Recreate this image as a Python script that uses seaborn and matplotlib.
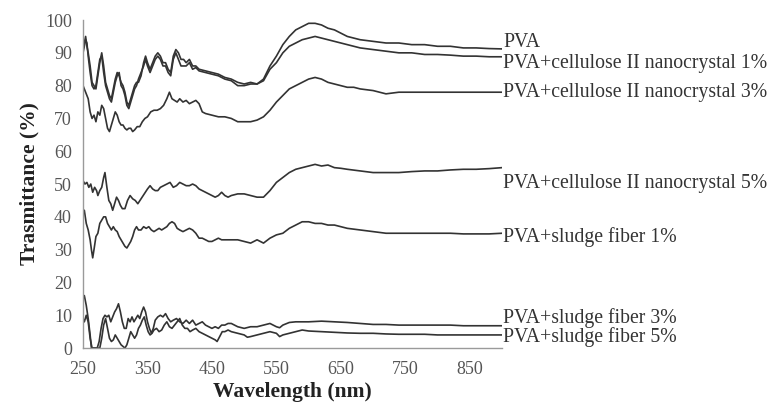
import matplotlib
matplotlib.use("Agg")
import matplotlib.pyplot as plt
import seaborn as sns
import pandas as pd

# Transmittance spectra (%) of PVA films
pva_wl = [250, 252, 254, 256, 258, 261, 264, 267, 270, 273, 276, 279, 282, 285, 288, 291, 294, 297,
          300, 303, 306, 309, 312, 315, 318, 321, 324, 327, 330, 333, 336, 340, 344, 347, 350, 354,
          358, 362, 366, 370, 374, 378, 382, 386, 390, 394, 398, 402, 406, 410, 415, 420, 425, 430,
          440, 450, 460, 470, 480, 490, 500, 510, 520, 530, 540, 550, 560, 570, 580, 590, 600, 610,
          620, 630, 640, 650, 660, 670, 680, 700, 720, 740, 760, 780, 800, 820, 840, 860, 880, 900]
pva_t = [91, 93, 95, 92, 90, 86, 81, 80, 79, 83, 87, 90, 86, 81, 79, 77, 76, 79,
         82, 84, 83, 81, 80, 78, 75, 74, 76, 78, 80, 81, 81, 83, 87, 89, 87, 85,
         87, 89, 90, 89, 87, 87, 85, 84, 89, 91, 90, 88, 88, 87, 88, 86, 86, 85,
         84.5, 84, 83.5, 82.5, 82, 81, 80.5, 81, 80.5, 82, 86, 89, 92.5, 95, 97, 98, 99, 99,
         98.5, 97.5, 97, 96, 95, 94.5, 94, 93.5, 93, 93, 92.5, 92.5, 92, 92, 91.5, 91.5, 91.3, 91.2]

cnc1_wl = pva_wl
cnc1_t = [90, 92, 94, 93, 89, 84, 80, 79, 80, 84, 88, 89, 84, 80, 78, 76, 75, 78,
          81, 83, 84, 80, 79, 77, 74, 73, 75, 77, 79, 80, 82, 84, 86, 88, 86, 84,
          86, 88, 89, 88, 86, 86, 84, 83, 88, 90, 88, 86, 86, 86, 87, 85, 85.5, 84.5,
          84, 83.5, 83, 82, 81.5, 80, 80, 80.5, 80.5, 81.5, 85, 87, 90, 92, 93, 94, 94.5, 95,
          94.5, 94, 93.5, 93, 92.5, 92, 91.5, 91, 90.5, 90, 90, 89.5, 89.5, 89.3, 89, 89, 88.8, 88.8]

cnc3_wl = [250, 254, 258, 261, 264, 267, 270, 273, 276, 279, 282, 285, 288, 291, 294, 297, 300, 303,
           306, 309, 312, 315, 318, 321, 324, 327, 330, 334, 338, 342, 346, 350, 355, 360, 365, 370,
           375, 380, 384, 388, 392, 396, 400, 405, 410, 415, 420, 425, 430, 435, 440, 450, 460, 470,
           480, 490, 500, 510, 520, 530, 540, 550, 560, 570, 580, 590, 600, 610, 620, 630, 640, 650,
           660, 670, 680, 700, 720, 740, 760, 780, 800, 820, 840, 860, 880, 900]
cnc3_t = [80, 78, 76, 72, 70, 71, 69, 72, 71, 74, 73, 70, 67, 66, 68, 70, 72, 71,
          69, 68, 68, 67, 66.5, 67, 67, 66, 66.5, 67.5, 67.5, 69, 70, 70.5, 72, 72.5, 72.5, 73,
          74, 76, 78, 76, 75.5, 75, 76, 75, 75.5, 74.5, 75, 75.5, 74.5, 72, 71.5, 71, 70.5, 70.5,
          70, 69, 69, 69, 69.5, 70.5, 72.5, 75, 77, 79, 80, 81, 82, 82.5, 82, 81, 80.5, 80,
          79.5, 79.5, 79, 78.5, 77.5, 78, 78, 78, 78, 78, 78, 78, 78, 78]

cnc5_wl = [250, 253, 256, 259, 262, 265, 268, 271, 273, 276, 279, 282, 284, 287, 290, 293, 296, 299,
           302, 305, 308, 311, 315, 319, 323, 327, 331, 335, 340, 345, 350, 354, 358, 362, 366, 370,
           375, 380, 385, 390, 395, 400, 405, 410, 415, 420, 425, 430, 435, 440, 445, 450, 455, 460,
           465, 470, 475, 480, 490, 500, 510, 520, 530, 540, 550, 560, 570, 580, 590, 600, 610, 620,
           630, 640, 650, 660, 680, 700, 720, 740, 760, 780, 800, 820, 840, 860, 880, 900]
cnc5_t = [51, 50, 50.5, 49, 50, 47.5, 49, 48, 46.5, 48, 49, 52, 53.5, 49, 45, 44, 42, 44,
          46, 45, 43.5, 42.5, 42.5, 45, 46.5, 45.5, 45, 44, 45.5, 47, 48.5, 49.5, 48.5, 48, 48, 49,
          49.5, 50, 50.5, 49, 49.5, 50.5, 50, 49.5, 49.5, 50, 49.5, 48.5, 48, 47.5, 47, 46.5, 46, 46.5,
          47.5, 46.5, 46, 46.5, 47, 47, 46.5, 46, 46, 48, 50.5, 52, 53.5, 54.5, 55, 55.5, 56, 55.5,
          55.8, 55, 54.8, 54.5, 54, 53.5, 53.5, 53.5, 53.8, 54, 54, 54.3, 54.5, 54.5, 54.7, 55]

sf1_wl = [250, 252, 255, 258, 261, 263, 265, 267, 270, 273, 276, 279, 282, 285, 288, 291, 294, 297,
          300, 303, 306, 309, 312, 315, 318, 321, 324, 327, 330, 333, 336, 340, 344, 348, 352, 356,
          360, 364, 368, 372, 376, 380, 384, 388, 392, 396, 400, 405, 410, 415, 420, 425, 430, 435,
          440, 445, 450, 455, 460, 465, 470, 480, 490, 500, 510, 515, 520, 525, 530, 540, 550, 560,
          570, 580, 590, 600, 610, 620, 630, 640, 650, 660, 680, 700, 720, 740, 760, 780, 800, 820,
          840, 860, 880, 900]
sf1_t = [41, 42, 38, 36, 33, 30, 27.5, 30, 34, 35, 38, 39, 40, 40, 38, 37, 36, 37,
         36, 35.5, 34, 33, 32, 31, 30.5, 31.5, 32.5, 34, 36, 37, 36, 36, 37, 36.5, 37, 36,
         35.5, 36, 36.5, 36, 36.5, 37, 38, 38.5, 38, 36.5, 36, 35.5, 36, 36.5, 36, 35, 33.5, 33.5,
         33, 32.5, 32.5, 33, 33.5, 33, 33, 33, 33, 32.5, 32, 32.5, 33, 32.5, 32, 33.5, 34.5, 35,
         36.5, 37.5, 38.5, 38.5, 38, 38, 37.5, 37.5, 37, 36.5, 36, 35.5, 35, 35, 35, 35, 35, 35,
         34.8, 34.8, 34.8, 35]

sf3_wl = [250, 252, 255, 258, 261, 263, 266, 269, 272, 275, 278, 281, 284, 287, 290, 293, 296, 299,
          302, 305, 308, 311, 314, 317, 320, 323, 326, 329, 332, 335, 338, 341, 344, 347, 350, 353,
          356, 359, 362, 366, 370, 374, 378, 382, 386, 390, 395, 400, 405, 410, 415, 420, 425, 430,
          435, 440, 445, 450, 455, 460, 465, 470, 475, 480, 490, 500, 510, 520, 530, 540, 550, 555,
          560, 570, 580, 590, 600, 620, 640, 660, 680, 700, 720, 740, 760, 780, 800, 820, 840, 860,
          880, 900]
sf3_t = [15, 16, 13, 9, 4, 0, 0, 0, 0, 2, 6, 9, 10, 9.5, 10, 8, 9.5, 11,
         12, 13.5, 11, 8, 6, 6, 9, 8, 9.5, 8, 9, 10, 9, 11, 12.5, 11, 8, 6,
         4.5, 6, 8.5, 9.5, 10, 9.5, 10.5, 9, 8, 8.5, 9, 8, 7.5, 8.5, 7.5, 8.5, 7, 7.5,
         8, 7, 6.5, 6, 6.5, 6, 7, 7, 7.5, 7.5, 6.5, 6, 6.5, 6.5, 7, 7.5, 6.5, 6.2,
         7, 7.8, 8, 8, 8, 8.2, 8, 7.8, 7.5, 7.2, 7.2, 7, 7, 7, 7, 7, 6.8, 6.8,
         6.8, 6.8]

sf5_wl = [250, 252, 255, 258, 261, 264, 267, 270, 273, 276, 279, 282, 285, 288, 291, 294, 297, 300,
          303, 306, 309, 312, 315, 318, 321, 324, 327, 330, 333, 336, 339, 342, 345, 348, 351, 354,
          357, 360, 364, 368, 372, 376, 380, 384, 388, 392, 396, 400, 404, 408, 412, 416, 420, 425,
          430, 435, 440, 445, 450, 455, 458, 462, 466, 470, 475, 480, 490, 500, 505, 510, 520, 530,
          540, 550, 555, 560, 570, 580, 590, 600, 620, 640, 660, 680, 700, 720, 740, 760, 780, 800,
          820, 840, 860, 880, 900]
sf5_t = [9, 8, 10, 8, 3, 0, 0, 0, 0, 0, 3, 7, 9, 6, 3, 2, 2.5, 4,
         3, 2, 1, 0.5, 0, 1, 3, 5, 4, 3, 4, 6, 7, 8.5, 9.5, 7, 5, 4,
         4.5, 5.5, 6, 5, 5.5, 7, 8, 6.5, 6, 7, 8, 9, 7, 6, 6, 5, 5.5, 6,
         5, 4.5, 4, 3.5, 3, 2.5, 2, 3.5, 5, 5, 5.5, 5, 4.5, 4, 3.3, 3.5, 4, 4.5,
         5, 4.5, 3.5, 4, 4.5, 5, 5.5, 5.2, 5, 4.8, 4.6, 4.5, 4.5, 4.3, 4.2, 4.2, 4.2, 4,
         4, 4, 4, 4, 4]

series_names = ["PVA",
                "PVA+cellulose II nanocrystal 1%",
                "PVA+cellulose II nanocrystal 3%",
                "PVA+cellulose II nanocrystal 5%",
                "PVA+sludge fiber 1%",
                "PVA+sludge fiber 3%",
                "PVA+sludge fiber 5%"]
series_data = [(pva_wl, pva_t), (cnc1_wl, cnc1_t), (cnc3_wl, cnc3_t), (cnc5_wl, cnc5_t),
               (sf1_wl, sf1_t), (sf3_wl, sf3_t), (sf5_wl, sf5_t)]
# vertical placement of the end labels (in % units)
label_y = [93.3, 86.9, 78.0, 50.3, 33.8, 9.1, 3.4]

x_ticks = [250, 350, 450, 550, 650, 750, 850]
y_ticks = [0, 10, 20, 30, 40, 50, 60, 70, 80, 90, 100]

rows = []
for name, (wl, t) in zip(series_names, series_data):
    for w, v in zip(wl, t):
        rows.append({"Wavelength": w, "T": v, "Sample": name})
df = pd.DataFrame(rows)

sns.set_style("white")
plt.rcParams["font.family"] = ["Liberation Serif", "DejaVu Serif"]

fig = plt.figure(figsize=(7.71, 4.09), dpi=100)
ax = fig.add_axes([0.1077, 0.149, 0.5434, 0.802])

line_color = "#333333"
sns.lineplot(data=df, x="Wavelength", y="T", hue="Sample", hue_order=series_names,
             palette=[line_color] * len(series_names), linewidth=1.2, legend=False,
             estimator=None, sort=False, ax=ax)

ax.set_xlim(250, 900)
ax.set_ylim(0, 100)
ax.set_xticks(x_ticks)
ax.set_yticks(y_ticks)

axis_gray = "#9a9a9a"
for side in ["top", "right"]:
    ax.spines[side].set_visible(False)
for side in ["left", "bottom"]:
    ax.spines[side].set_color(axis_gray)
    ax.spines[side].set_linewidth(1.0)
ax.tick_params(axis="both", direction="out", length=5, width=1.0, color=axis_gray,
               labelsize=13, labelcolor="#555555", pad=4)
ax.tick_params(axis="y", length=4)

label_font = {"family": ["Liberation Serif"], "weight": "bold", "size": 15.5, "color": "#222222"}
ax.set_xlabel("Wavelength (nm)", fontdict=label_font, labelpad=3)
ax.set_ylabel("Trasmittance (%)", fontdict=label_font, labelpad=4)

for name, y in zip(series_names, label_y):
    ax.text(902, y, name, fontsize=14.2, color="#333333", va="center", ha="left", clip_on=False)

fig.savefig("out.png", dpi=100, facecolor="white")
